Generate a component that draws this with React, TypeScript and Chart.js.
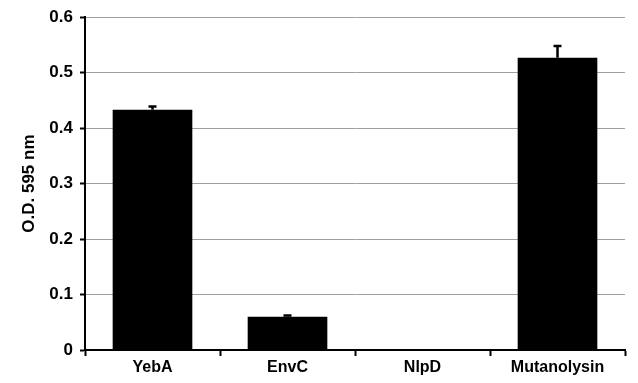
import React, { useEffect, useRef } from "react";
import { Chart, registerables } from "chart.js";

Chart.register(...registerables);

const categories = ["YebA", "EnvC", "NlpD", "Mutanolysin"];
const values = [0.433, 0.06, 0, 0.527];
const errors = [0.006, 0.002, 0, 0.021];
const yTicks = [0, 0.1, 0.2, 0.3, 0.4, 0.5, 0.6];

const FONT = "'Liberation Sans', Arial, sans-serif";

const errorBarPlugin = {
  id: "errorBars",
  afterDatasetsDraw(chart: any) {
    const ctx = chart.ctx;
    const meta = chart.getDatasetMeta(0);
    const y = chart.scales.y;
    ctx.save();
    ctx.strokeStyle = "#000";
    ctx.lineWidth = 2.5;
    meta.data.forEach((bar: any, i: number) => {
      const e = errors[i];
      if (!e) return;
      const x = bar.x;
      const y0 = y.getPixelForValue(values[i]);
      const y1 = y.getPixelForValue(values[i] + e);
      ctx.beginPath();
      ctx.moveTo(x, y0);
      ctx.lineTo(x, y1);
      ctx.moveTo(x - 4, y1);
      ctx.lineTo(x + 4, y1);
      ctx.stroke();
    });
    ctx.restore();
  },
};

export default function App() {
  const ref = useRef<HTMLCanvasElement>(null);
  useEffect(() => {
    document.body.style.margin = "0";
    const chart = new Chart(ref.current!, {
      type: "bar",
      data: {
        labels: categories,
        datasets: [
          {
            data: values,
            backgroundColor: "#000",
            borderWidth: 0,
            barPercentage: 0.59,
            categoryPercentage: 1,
          },
        ],
      },
      plugins: [errorBarPlugin],
      options: {
        animation: false,
        responsive: false,
        maintainAspectRatio: false,
        layout: { padding: { top: 14, right: 13, left: 0, bottom: 0 } },
        plugins: { legend: { display: false }, tooltip: { enabled: false } },
        scales: {
          x: {
            offset: true,
            afterFit: (s: any) => {
              s.height = 33;
            },
            border: { color: "#000", width: 2 },
            grid: {
              offset: true,
              drawOnChartArea: false,
              tickLength: 6,
              tickWidth: 2,
              tickColor: (c: any) => (c.index === categories.length ? "rgba(0,0,0,0)" : "#000"),
            },
            ticks: {
              color: "#000",
              padding: 2,
              font: { family: FONT, size: 16, weight: "bold" },
            },
          },
          y: {
            min: 0,
            max: 0.6,
            afterFit: (s: any) => {
              s.width = 85;
            },
            afterBuildTicks: (s: any) => {
              s.ticks = yTicks.map((v) => ({ value: v }));
            },
            border: { color: "#000", width: 2 },
            grid: {
              color: "#a0a0a0",
              lineWidth: 1,
              tickLength: 5,
              tickWidth: 2,
              tickColor: "#000",
            },
            ticks: {
              color: "#000",
              padding: 7,
              font: { family: FONT, size: 17, weight: "bold" },
              callback: (v: any) => String(Number(v)),
            },
            title: {
              display: true,
              text: "O.D. 595 nm",
              color: "#000",
              font: { family: FONT, size: 17, weight: "bold" },
              padding: { top: 19, bottom: 0 },
            },
          },
        },
      },
    });
    return () => chart.destroy();
  }, []);
  return (
    <div style={{ width: 638, height: 383 }}>
      <canvas ref={ref} width={638} height={383} style={{ display: "block" }} />
    </div>
  );
}
